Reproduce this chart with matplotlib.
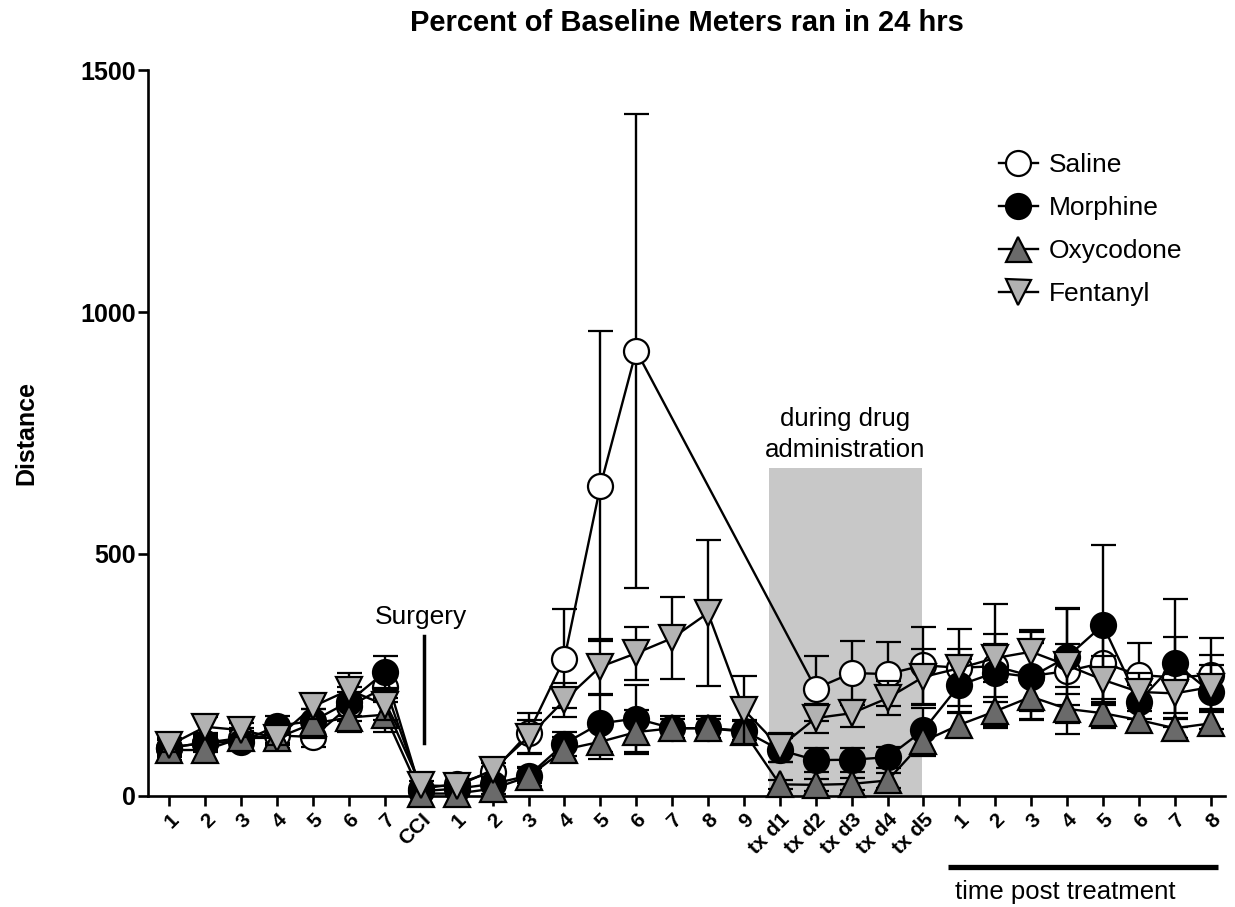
import numpy as np
import matplotlib
matplotlib.use('Agg')
import matplotlib.pyplot as plt
from matplotlib.lines import Line2D

plt.rcParams['font.family'] = ['Liberation Sans', 'DejaVu Sans']

nan = np.nan
labels = ['1', '2', '3', '4', '5', '6', '7', 'CCI',
          '1', '2', '3', '4', '5', '6', '7', '8', '9',
          'tx d1', 'tx d2', 'tx d3', 'tx d4', 'tx d5',
          '1', '2', '3', '4', '5', '6', '7', '8']

saline = [100, 110, 120, 125, 122, 185, 225, 15, 25, 50, 130, 284, 640, 920,
          nan, nan, nan, nan, 222, 254, 252, 270, 265, 268, 248, 258, 275, 250, 245, 250]
saline_err = [15, 15, 15, 15, 20, 30, 30, 5, 8, 10, 42, 102, 320, 490,
              nan, nan, nan, nan, 67, 66, 66, 80, 80, 128, 90, 130, 80, 66, 84, 77]

morphine = [100, 110, 112, 145, 155, 195, 256, 10, 15, 25, 42, 108, 150, 160,
            140, 140, 135, 95, 74, 75, 80, 136, 229, 255, 246, 287, 353, 195, 275, 215]
morphine_err = [20, 20, 15, 20, 25, 30, 33, 5, 6, 10, 15, 25, 60, 70,
                20, 20, 20, 25, 25, 25, 22, 45, 55, 60, 70, 100, 165, 35, 133, 76]

oxycodone = [95, 95, 120, 120, 150, 162, 168, 5, 5, 15, 40, 96, 112, 132,
             140, 140, 133, 24, 23, 25, 32, 113, 147, 175, 205, 180, 171, 157, 140, 150]
oxycodone_err = [20, 25, 20, 20, 30, 30, 35, 5, 5, 10, 20, 25, 35, 45,
                 25, 25, 25, 10, 12, 12, 15, 30, 25, 30, 45, 30, 30, 25, 20, 25]

fentanyl = [105, 143, 136, 120, 185, 219, 188, 22, 20, 54, 122, 198, 267, 295,
            326, 378, 178, 101, 161, 171, 202, 246, 264, 285, 298, 270, 240, 215, 212, 225]
fentanyl_err = [15, 20, 15, 15, 25, 35, 30, 8, 8, 15, 35, 35, 58, 55,
                85, 150, 70, 30, 30, 28, 35, 58, 40, 50, 45, 45, 50, 40, 40, 45]

series = [
    ('Saline', saline, saline_err, 'o', 'white'),
    ('Morphine', morphine, morphine_err, 'o', 'black'),
    ('Oxycodone', oxycodone, oxycodone_err, '^', '#6a6a6a'),
    ('Fentanyl', fentanyl, fentanyl_err, 'v', '#b2b2b2'),
]

fig = plt.figure(figsize=(12.35, 9.07), dpi=100)
ax = fig.add_axes([0.1198, 0.1224, 0.8721, 0.8004])

x = np.arange(len(labels))

# shaded drug administration period
ax.axvspan(16.7, 20.95, ymin=0, ymax=678 / 1500, color='#c8c8c8', zorder=0, lw=0)

handles = []
for k, (name, vals, errs, mk, fc) in enumerate(series):
    vals = np.array(vals, dtype=float)
    errs = np.array(errs, dtype=float)
    ok = ~np.isnan(vals)
    ms = 18 if mk == 'o' else 19
    ax.errorbar(x[ok], vals[ok], yerr=errs[ok], fmt='-', marker=mk, ms=ms,
                mfc=fc, mec='black', mew=1.6, color='black', lw=1.7,
                elinewidth=1.7, capsize=9, capthick=1.8,
                zorder=2 + k, clip_on=False)
    handles.append(Line2D([], [], color='black', lw=1.7, marker=mk, ms=18,
                          mfc=fc, mec='black', mew=1.6, label=name))

ax.set_xlim(-0.6, 29.4)
ax.set_ylim(0, 1500)
ax.set_yticks([0, 500, 1000, 1500])
ax.set_xticks(x)
ax.set_xticklabels(labels, rotation=45, ha='right', rotation_mode='anchor',
                   fontweight='bold', fontsize=15)
for t in ax.get_yticklabels():
    t.set_fontweight('bold')
    t.set_fontsize(18)

for s in ['top', 'right']:
    ax.spines[s].set_visible(False)
for s in ['left', 'bottom']:
    ax.spines[s].set_linewidth(1.9)
ax.tick_params(axis='both', direction='out', length=7, width=1.9)
ax.tick_params(axis='x', pad=3)
ax.tick_params(axis='y', pad=1.5)

ax.set_ylabel('Distance', fontsize=18, fontweight='bold', labelpad=30)
ax.set_title('Percent of Baseline Meters ran in 24 hrs', fontsize=21,
             fontweight='bold', pad=28, x=0.5)

# annotations
ax.plot([7.1, 7.1], [110, 330], color='black', lw=2.5, zorder=2)
ax.text(7.0, 345, 'Surgery', ha='center', va='bottom', fontsize=19)
ax.text(18.83, 690, 'during drug\nadministration', ha='center', va='bottom',
        fontsize=18.5, linespacing=1.35)
ax.plot([21.68, 29.2], [-147, -147], color='black', lw=3.8, clip_on=False,
        solid_capstyle='butt')
ax.text(24.94, -198, 'time post treatment', ha='center', va='center',
        fontsize=18.5, clip_on=False)

ax.legend(handles=handles, loc='upper left', bbox_to_anchor=(0.78, 0.9),
          frameon=False, fontsize=19, handlelength=1.5, labelspacing=0.72,
          handletextpad=0.4, borderaxespad=0)

fig.savefig('out.png', dpi=100)
